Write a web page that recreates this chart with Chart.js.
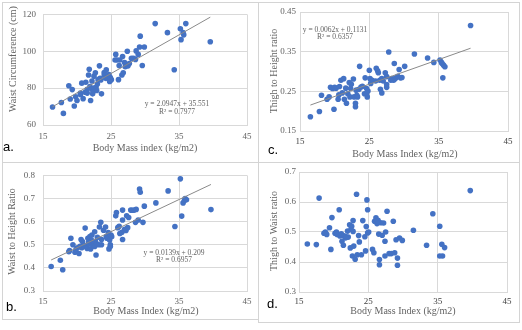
<!DOCTYPE html>
<html>
<head>
<meta charset="utf-8">
<script src="https://cdn.jsdelivr.net/npm/chart.js@4.4.0/dist/chart.umd.min.js"></script>
<style>
  body { margin: 0; width: 522px; height: 330px; background: #fff; position: relative; overflow: hidden; }
  .cell { position: absolute; border: 1px solid #d4d4d4; box-sizing: border-box; }
  canvas { position: absolute; }
</style>
</head>
<body>
<div class="cell" style="left:2px;top:2px;width:257px;height:161px"></div>
<div class="cell" style="left:258px;top:2px;width:262px;height:161px"></div>
<div class="cell" style="left:2px;top:162px;width:257px;height:158px"></div>
<div class="cell" style="left:258px;top:162px;width:262px;height:161px"></div>

<canvas id="chartA" width="256" height="160" style="left:2px;top:2px"></canvas>
<canvas id="chartC" width="261" height="160" style="left:258px;top:2px"></canvas>
<canvas id="chartB" width="256" height="157" style="left:2px;top:162px"></canvas>
<canvas id="chartD" width="261" height="160" style="left:258px;top:162px"></canvas>

<script>
// ==========================================
// Data
// ==========================================

// a. Waist circumference vs BMI
const bmiA = [16.4,17.7,18.0,18.8,19.0,19.3,19.6,19.8,20.0,20.5,20.5,20.7,20.9,21.2,21.3,21.5,21.5,21.7,21.8,21.9,
  22.0,22.2,22.2,22.3,22.4,22.5,22.5,22.7,22.8,22.9,23.0,23.1,23.3,23.4,23.5,23.6,24.0,24.0,24.2,24.3,
  24.5,24.7,24.8,24.85,24.9,25.05,25.6,25.7,25.9,26.1,26.2,26.3,26.6,26.7,26.8,27.0,27.1,27.4,27.5,27.7,
  28.0,28.3,28.6,28.7,29.0,29.2,29.3,29.6,29.9,31.5,33.3,34.3,35.2,35.3,35.6,35.7,36.0,39.6];
const waistA = [69.8,72.2,66.3,81.3,74.1,79.2,70.3,75.3,73.3,76.6,77.4,82.7,74.3,77.8,83.2,79.4,77.3,87.1,90.2,80.8,
  73.3,83.9,79.4,76.9,78.3,86.5,80.1,88.3,80.4,78.7,82.2,84.6,92.1,85.3,84.4,76.9,87.1,88.5,85.3,89.9,
  85.3,87.4,83.6,84.3,85.7,84.6,95.3,98.3,95.3,84.6,92.3,95.3,87.1,97.2,88.3,93.9,91.6,100,92.1,93.4,
  96.2,96.2,95.6,100.2,98.3,102.3,108.2,92.3,102.3,115,110.1,90,112.2,106.3,110.1,108.9,115,105.2];
const trendCoefA = [2.0947, 35.551];
const trendRangeA = [16.4, 39.6];

// c. Thigh to height ratio vs BMI
const bmiC = [16.5,17.8,18.1,18.9,19.2,19.4,19.7,19.9,20.0,20.2,20.5,20.6,20.7,20.9,21.1,21.3,21.4,21.6,21.7,21.9,
  22.1,22.2,22.3,22.4,22.7,22.8,23.0,23.0,23.1,23.2,23.3,23.5,23.6,23.8,24.0,24.3,24.4,24.6,24.6,24.7,
  24.8,25.0,25.1,25.2,25.4,25.9,26.0,26.2,26.3,26.5,26.6,26.8,26.8,27.0,27.3,27.5,27.5,27.5,27.8,28.1,
  28.2,28.5,28.6,28.7,28.9,29.1,29.3,29.5,29.7,30.1,31.5,33.4,34.3,35.2,35.4,35.5,35.6,35.7,35.9,39.6];
const thighHeightC = [0.186,0.199,0.240,0.230,0.236,0.260,0.257,0.205,0.260,0.258,0.230,0.241,0.262,0.278,0.246,0.282,0.230,0.258,0.220,0.244,
  0.272,0.236,0.257,0.268,0.281,0.236,0.220,0.211,0.253,0.240,0.236,0.255,0.313,0.261,0.263,0.244,0.284,0.243,0.257,0.236,
  0.251,0.303,0.282,0.270,0.278,0.276,0.308,0.302,0.297,0.278,0.255,0.246,0.282,0.276,0.297,0.287,0.260,0.267,0.349,0.278,
  0.282,0.278,0.320,0.282,0.285,0.288,0.305,0.284,0.285,0.313,0.344,0.334,0.323,0.329,0.323,0.320,0.284,0.316,0.312,0.416];
const trendCoefC = [0.0062, 0.1131];
const trendRangeC = [16.5, 39.6];

// b. Waist to height ratio vs BMI
const bmiB = [16.2,17.55,17.9,18.8,18.9,19.1,19.4,19.7,19.85,20.05,20.3,20.45,20.6,20.7,20.8,21.0,21.2,21.3,21.5,21.6,
  21.7,21.8,21.9,22.0,22.2,22.2,22.4,22.5,22.6,22.6,22.7,22.8,22.9,23.0,23.2,23.3,23.5,23.6,23.6,23.9,
  24.2,24.3,24.4,24.6,24.7,24.8,24.9,24.9,25.0,25.1,25.7,25.8,26.0,26.2,26.3,26.6,26.7,26.7,26.7,27.0,
  27.2,27.3,27.45,27.6,27.9,28.1,28.4,28.6,28.7,29.0,29.2,29.3,29.7,29.9,31.6,33.4,34.4,35.2,35.4,35.6,
  35.8,35.9,36.1,39.7];
const whtrB = [0.406,0.433,0.392,0.470,0.475,0.528,0.500,0.468,0.479,0.487,0.462,0.493,0.523,0.487,0.514,0.498,0.572,0.493,0.484,0.528,
  0.511,0.503,0.535,0.482,0.518,0.542,0.496,0.507,0.556,0.493,0.514,0.456,0.504,0.532,0.500,0.577,0.597,0.523,0.500,0.563,
  0.577,0.535,0.528,0.553,0.482,0.521,0.500,0.493,0.542,0.535,0.625,0.639,0.574,0.580,0.549,0.554,0.607,0.523,0.650,0.567,
  0.562,0.625,0.574,0.618,0.650,0.649,0.650,0.597,0.653,0.607,0.741,0.727,0.597,0.667,0.681,0.733,0.579,0.785,0.624,0.681,
  0.691,0.700,0.695,0.652];
const trendCoefB = [0.0139, 0.209];
const trendRangeB = [16.2, 39.7];

// d. Thigh to waist ratio vs BMI
const bmiD = [16.2,17.5,17.9,18.6,18.8,19.0,19.4,19.6,19.75,20.2,20.4,20.5,20.8,20.9,21.1,21.2,21.4,21.5,21.7,21.8,
  22.0,22.1,22.3,22.4,22.5,22.6,22.7,22.8,22.8,22.9,23.1,23.3,23.4,23.6,23.7,24.0,24.2,24.5,24.6,24.7,
  24.8,24.9,24.9,25.05,25.6,25.8,25.9,26.1,26.25,26.4,26.5,26.6,26.6,26.8,27.0,27.2,27.4,27.4,27.5,27.7,
  28.0,28.3,28.6,28.8,29.0,29.2,29.2,29.5,29.9,31.5,33.4,34.3,35.3,35.3,35.6,35.7,36.0,39.7];
const twrD = [0.460,0.458,0.613,0.496,0.500,0.492,0.514,0.442,0.548,0.496,0.500,0.492,0.574,0.487,0.494,0.469,0.456,0.487,0.480,0.484,
  0.503,0.483,0.524,0.447,0.509,0.519,0.420,0.538,0.502,0.453,0.409,0.626,0.424,0.488,0.467,0.424,0.538,0.484,0.437,0.518,
  0.607,0.574,0.497,0.500,0.442,0.431,0.536,0.547,0.528,0.539,0.493,0.408,0.391,0.531,0.489,0.530,0.420,0.469,0.500,0.569,
  0.428,0.428,0.536,0.431,0.474,0.413,0.389,0.480,0.472,0.506,0.456,0.561,0.519,0.420,0.459,0.420,0.448,0.638];

// ==========================================
// Drawing
// ==========================================

const GRID = '#d9d9d9';
const TEXT = '#636363';
const DOT = '#4472C4';
const SERIF = "'Liberation Serif', 'DejaVu Serif', serif";
const SANS = "'Liberation Sans', Arial, sans-serif";

// free text (axis titles, equations, panel letter) drawn on the canvas
const panelText = {
  id: 'panelText',
  afterDraw(chart, args, opts) {
    const ctx = chart.ctx;
    (opts.items || []).forEach(t => {
      ctx.save();
      ctx.font = t.font;
      ctx.fillStyle = t.color || TEXT;
      ctx.textAlign = t.align || 'center';
      ctx.textBaseline = 'middle';
      ctx.translate(t.x, t.y);
      if (t.rot) ctx.rotate(t.rot);
      ctx.fillText(t.text, 0, 0);
      ctx.restore();
    });
  }
};

function trendPoints(coef, range) {
  return range.map(x => ({ x, y: coef[0] * x + coef[1] }));
}

function makePanel(id, xs, ys, cfg) {
  const datasets = [];
  if (cfg.trend) {
    datasets.push({
      data: cfg.trend, showLine: true, borderColor: '#8a8a8a', borderWidth: 1,
      pointRadius: 0, order: 0
    });
  }
  datasets.push({
    data: xs.map((x, i) => ({ x, y: ys[i] })),
    pointRadius: 2.8, pointBackgroundColor: DOT, pointBorderWidth: 0, order: 1
  });

  return new Chart(document.getElementById(id), {
    type: 'scatter',
    data: { datasets },
    plugins: [panelText],
    options: {
      responsive: false,
      animation: false,
      layout: { padding: { left: 0, top: cfg.top, right: cfg.right, bottom: 0 } },
      plugins: {
        legend: { display: false },
        tooltip: { enabled: false },
        panelText: { items: cfg.texts }
      },
      scales: {
        x: {
          type: 'linear', min: 15, max: 45,
          ticks: { stepSize: 10, padding: cfg.xPad, color: cfg.xTickColor || TEXT, font: { family: SERIF, size: 9 } },
          grid: { color: GRID, drawTicks: false },
          border: { color: GRID },
          afterFit: s => { s.height = cfg.xH; }
        },
        y: {
          min: cfg.yMin, max: cfg.yMax,
          ticks: {
            stepSize: cfg.yStep, padding: cfg.yPad, color: TEXT,
            font: { family: SERIF, size: 9 },
            callback: v => v.toFixed(cfg.yDigits)
          },
          grid: { color: GRID, drawTicks: false },
          border: { color: GRID },
          afterFit: s => { s.width = cfg.yW; }
        }
      }
    }
  });
}

const titleFont = '10px ' + SERIF;
const eqFont = '7.5px ' + SERIF;
const letterFont = '13px ' + SANS;
const UP = -Math.PI / 2;

makePanel('chartA', bmiA, waistA, {
  yMin: 60, yMax: 120, yStep: 20, yDigits: 0,
  top: 9, right: 11, yW: 41, xH: 37, xPad: 6, yPad: 7,
  trend: trendPoints(trendCoefA, trendRangeA),
  texts: [
    { text: 'Waist Circumference (cm)', x: 11, y: 57, rot: UP, font: titleFont },
    { text: 'Body Mass index (kg/m2)', x: 143, y: 146, font: titleFont },
    { text: 'y = 2.0947x + 35.551', x: 175, y: 102, font: eqFont },
    { text: 'R² = 0.7977', x: 175, y: 110, font: eqFont },
    { text: 'a.', x: 1, y: 145, align: 'left', font: letterFont, color: '#000' }
  ]
});

makePanel('chartC', bmiC, thighHeightC, {
  yMin: 0.15, yMax: 0.45, yStep: 0.1, yDigits: 2,
  top: 10, right: 11, yW: 42, xH: 31, xPad: 5, yPad: 4, xTickColor: '#404040',
  trend: trendPoints(trendCoefC, trendRangeC),
  texts: [
    { text: 'Thigh to Height ratio', x: 16, y: 69, rot: UP, font: titleFont },
    { text: 'Body Mass Index (kg/m2)', x: 147, y: 152, font: titleFont },
    { text: 'y = 0.0062x + 0.1131', x: 77, y: 28, font: eqFont },
    { text: 'R² = 0.6357', x: 77, y: 35.5, font: eqFont },
    { text: 'c.', x: 10, y: 148, align: 'left', font: letterFont, color: '#000' }
  ]
});

makePanel('chartB', bmiB, whtrB, {
  yMin: 0.3, yMax: 0.8, yStep: 0.1, yDigits: 1,
  top: 10, right: 11, yW: 41, xH: 28, xPad: 5, yPad: 8,
  trend: trendPoints(trendCoefB, trendRangeB),
  texts: [
    { text: 'Waist to Height Ratio', x: 10, y: 69.5, rot: UP, font: titleFont },
    { text: 'Body Mass Index (kg/m2)', x: 144, y: 149.5, font: titleFont },
    { text: 'y = 0.0139x + 0.209', x: 172, y: 91, font: eqFont },
    { text: 'R² = 0.6957', x: 172, y: 98.5, font: eqFont },
    { text: 'b.', x: 4, y: 145.5, align: 'left', font: letterFont, color: '#000' }
  ]
});

makePanel('chartD', bmiD, twrD, {
  yMin: 0.3, yMax: 0.7, yStep: 0.1, yDigits: 1,
  top: 10, right: 12, yW: 41, xH: 30, xPad: 4, yPad: 3, xTickColor: '#404040',
  trend: null,
  texts: [
    { text: 'Thigh to Waist ratio', x: 16, y: 69, rot: UP, font: titleFont },
    { text: 'Body Mass Index (kg/m2)', x: 145, y: 149.5, font: titleFont },
    { text: 'd.', x: 9, y: 142, align: 'left', font: letterFont, color: '#000' }
  ]
});
</script>
</body>
</html>
